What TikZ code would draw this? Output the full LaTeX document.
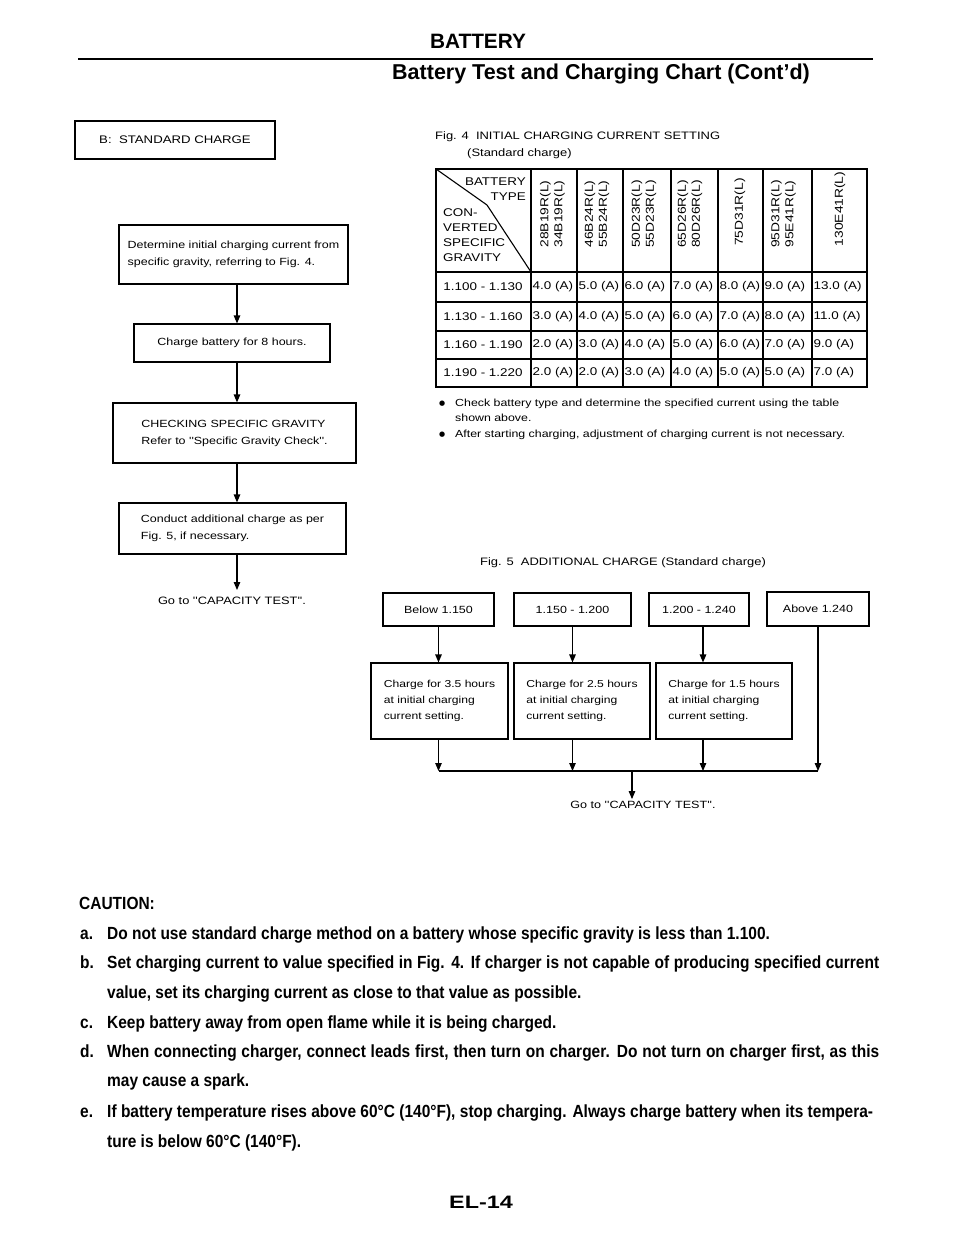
\documentclass[tikz,border=0pt]{standalone}
\usepackage{fontspec}
\setmainfont{Liberation Sans}
\newfontfamily\wide{Liberation Sans}[FakeStretch=1.2]
\newfontfamily\cautfont{Liberation Sans Bold}[FakeStretch=0.88]
\newfontfamily\widebold{Liberation Sans Bold}[FakeStretch=1.3]
\newfontfamily\symfont{DejaVu Sans}
\usetikzlibrary{arrows.meta}
\begin{document}
\begin{tikzpicture}[x=1pt,y=-1pt,
  box/.style={draw,line width=1.1pt,inner sep=0pt,align=left,font=\wide\fontsize{10.4}{17}\selectfont},
  tcell/.style={inner sep=0pt,font=\wide\fontsize{11.2}{14}\selectfont},
  vcell/.style={inner sep=0pt,rotate=90,align=center,font=\wide\fontsize{11.5}{14}\selectfont},
  lbl/.style={inner sep=0pt,font=\wide\fontsize{10.8}{16}\selectfont},
  note/.style={inner sep=0pt,anchor=base west,font=\wide\fontsize{10.3}{15}\selectfont},
  arr/.style={line width=1.1pt,-{Triangle[length=8pt,width=6.5pt]}},
  tline/.style={line width=1.3pt},
  caut/.style={inner sep=0pt,anchor=base west,font=\cautfont\fontsize{17.6}{20}\selectfont},
]
\useasboundingbox (0,0) rectangle (960,1242);
\fill[white] (0,0) rectangle (960,1242);

% ---------- header ----------
\node[inner sep=0, font=\bfseries\fontsize{20.8}{24}\selectfont, anchor=base] (ttl) at (478,48) {BATTERY};
\coordinate (rl) at (78,59); \coordinate (rr) at (873,59);
\draw[line width=2.5pt] (rl) -- (rr);
\node[inner sep=0, font=\bfseries\fontsize{21.5}{24}\selectfont, anchor=base west] (sub) at (392,79) {Battery Test and Charging Chart (Cont'd)};

% ---------- left flow ----------
\node[box, align=center, line width=1.4pt, font=\wide\fontsize{11}{17}\selectfont, minimum width=200pt, minimum height=38pt] (sc) at (175,140) {B:\ \ STANDARD CHARGE};
\node[box, minimum width=229pt, minimum height=59pt] (det) at (233.5,254.5) {Determine initial charging current from\\specific gravity, referring to Fig. 4.};
\node[box, align=center, minimum width=196pt, minimum height=38pt] (chg) at (232,343) {Charge battery for 8 hours.};
\node[box, minimum width=243pt, minimum height=60pt] (chk) at (234.5,433) {CHECKING SPECIFIC GRAVITY\\Refer to ''Specific Gravity Check''.};
\node[box, minimum width=227pt, minimum height=51pt] (con) at (232.5,528.5) {Conduct additional charge as per\\Fig. 5, if necessary.};
\node[lbl, font=\wide\fontsize{10.7}{15}\selectfont] (go1) at (232,601) {Go to ''CAPACITY TEST''.};
\coordinate (ax) at (237,0);
\draw[arr] (det.south -| ax) -- (chg.north -| ax);
\draw[arr] (chg.south -| ax) -- (chk.north -| ax);
\draw[arr] (chk.south -| ax) -- (con.north -| ax);
\draw[arr] (con.south -| ax) -- ([yshift=7pt]go1.north -| ax);

% ---------- Fig. 4 ----------
\node[lbl, anchor=base west] (f4a) at (435,139) {Fig. 4\ \ INITIAL CHARGING CURRENT SETTING};
\node[lbl, anchor=base west] (f4b) at (467,156) {(Standard charge)};

\draw[tline] (436,169) rectangle (867,387);
\foreach \xx in {531,577,623,671,718,763,812} \draw[tline] (\xx,169) -- (\xx,387);
\foreach \yy in {272,302,331,359} \draw[tline] (436,\yy) -- (867,\yy);
\draw[line width=1.1pt] (436,169) -- (487,205) -- (531,272);

\node[tcell, anchor=east] (hb) at (526,182) {BATTERY};
\node[tcell, anchor=east] (ht) at (526,197) {TYPE};
\node[tcell, anchor=west] (hc1) at (443,213) {CON-};
\node[tcell, anchor=west] (hc2) at (443,228) {VERTED};
\node[tcell, anchor=west] (hc3) at (443,243) {SPECIFIC};
\node[tcell, anchor=west] (hc4) at (443,258) {GRAVITY};

\node[vcell] (k1) at (552.5,214) {28B19R(L)\\34B19R(L)};
\node[vcell] (k2) at (597,214) {46B24R(L)\\55B24R(L)};
\node[vcell] (k3) at (644,214) {50D23R(L)\\55D23R(L)};
\node[vcell] (k4) at (690,214) {65D26R(L)\\80D26R(L)};
\node[vcell] (k5) at (740,212) {75D31R(L)};
\node[vcell] (k6) at (783.5,214) {95D31R(L)\\95E41R(L)};
\node[vcell] (k7) at (840,209) {130E41R(L)};

\node[tcell] (la) at (483,287) {1.100 - 1.130};
\node[tcell] (lb) at (483,316.5) {1.130 - 1.160};
\node[tcell] (lc) at (483,345) {1.160 - 1.190};
\node[tcell] (ld) at (483,373) {1.190 - 1.220};
\foreach \x/\v [count=\i] in {531/4.0,577/5.0,623/6.0,671/7.0,718/8.0,763/9.0,812/13.0}
  \node[tcell, anchor=west] (ra\i) at (\x+1.5,287) {\v\ (A)};
\foreach \x/\v [count=\i] in {531/3.0,577/4.0,623/5.0,671/6.0,718/7.0,763/8.0,812/11.0}
  \node[tcell, anchor=west] (rb\i) at (\x+1.5,316.5) {\v\ (A)};
\foreach \x/\v [count=\i] in {531/2.0,577/3.0,623/4.0,671/5.0,718/6.0,763/7.0,812/9.0}
  \node[tcell, anchor=west] (rc\i) at (\x+1.5,345) {\v\ (A)};
\foreach \x/\v [count=\i] in {531/2.0,577/2.0,623/3.0,671/4.0,718/5.0,763/5.0,812/7.0}
  \node[tcell, anchor=west] (rd\i) at (\x+1.5,373) {\v\ (A)};

\node[note, font=\symfont\fontsize{7}{10}\selectfont] (bu1) at (439,405) {●};
\node[note] (n1) at (455,406) {Check battery type and determine the specified current using the table};
\node[note] (n1b) at (455,421) {shown above.};
\node[note, font=\symfont\fontsize{7}{10}\selectfont] (bu2) at (439,436) {●};
\node[note] (n2) at (455,437) {After starting charging, adjustment of charging current is not necessary.};

% ---------- Fig. 5 ----------
\node[lbl, anchor=base] (f5) at (623,565) {Fig. 5\ \ ADDITIONAL CHARGE (Standard charge)};
\node[box, align=center, minimum width=111pt, minimum height=33pt] (b1) at (438.5,609.5) {Below 1.150};
\node[box, align=center, minimum width=117pt, minimum height=33pt] (b2) at (572.5,609.5) {1.150 - 1.200};
\node[box, align=center, minimum width=100pt, minimum height=33pt] (b3) at (699,609.5) {1.200 - 1.240};
\node[box, align=center, minimum width=102pt, minimum height=34pt] (b4) at (818,609) {Above 1.240};
\node[box, font=\wide\fontsize{10.1}{16}\selectfont, minimum width=137pt, minimum height=76pt] (c1) at (439.5,701) {Charge for 3.5 hours\\at initial charging\\current setting.};
\node[box, font=\wide\fontsize{10.1}{16}\selectfont, minimum width=136pt, minimum height=76pt] (c2) at (582,701) {Charge for 2.5 hours\\at initial charging\\current setting.};
\node[box, font=\wide\fontsize{10.1}{16}\selectfont, minimum width=136pt, minimum height=76pt] (c3) at (724,701) {Charge for 1.5 hours\\at initial charging\\current setting.};
\node[lbl, font=\wide\fontsize{10.5}{15}\selectfont] (go2) at (643,805) {Go to ''CAPACITY TEST''.};
\coordinate (bus) at (632,771);
\coordinate (x3) at (703,0);
\draw[arr] (b1.south) -- (b1.south |- c1.north);
\draw[arr] (b2.south) -- (b2.south |- c2.north);
\draw[arr] (b3.south -| x3) -- (c3.north -| x3);
\draw[arr] (c1.south -| b1.south) -- (b1.south |- bus);
\draw[arr] (c2.south -| b2.south) -- (b2.south |- bus);
\draw[arr] (c3.south -| x3) -- (bus -| x3);
\draw[arr] (b4.south) -- (b4.south |- bus);
\draw[line width=1.1pt] (b1.south |- bus) -- (b4.south |- bus);
\draw[arr] (bus) -- ([yshift=2pt]bus |- go2.north);

% ---------- caution ----------
\node[caut] (cau) at (79,909) {CAUTION:};
\node[caut] (ca) at (80,939) {a.};
\node[caut] (cat) at (107,939) {Do not use standard charge method on a battery whose specific gravity is less than 1.100.};
\node[caut] (cb) at (80,968) {b.};
\node[caut] (cbt) at (107,968) {\makebox[772pt][s]{Set charging current to value specified in Fig. 4. If charger is not capable of producing specified current}};
\node[caut] (cbt2) at (107,998) {value, set its charging current as close to that value as possible.};
\node[caut] (cc) at (80,1028) {c.};
\node[caut] (cct) at (107,1028) {Keep battery away from open flame while it is being charged.};
\node[caut] (cd) at (80,1057) {d.};
\node[caut] (cdt) at (107,1057) {\makebox[772pt][s]{When connecting charger, connect leads first, then turn on charger. Do not turn on charger first, as this}};
\node[caut] (cdt2) at (107,1086) {may cause a spark.};
\node[caut] (ce) at (80,1117) {e.};
\node[caut] (cet) at (107,1117) {\makebox[766pt][s]{If battery temperature rises above 60°C (140°F), stop charging. Always charge battery when its tempera-}};
\node[caut] (cet2) at (107,1147) {ture is below 60°C (140°F).};

% ---------- footer ----------
\node[inner sep=0, font=\widebold\fontsize{18}{20}\selectfont, anchor=base] (pg) at (481,1208) {EL-14};
\end{tikzpicture}
\end{document}
